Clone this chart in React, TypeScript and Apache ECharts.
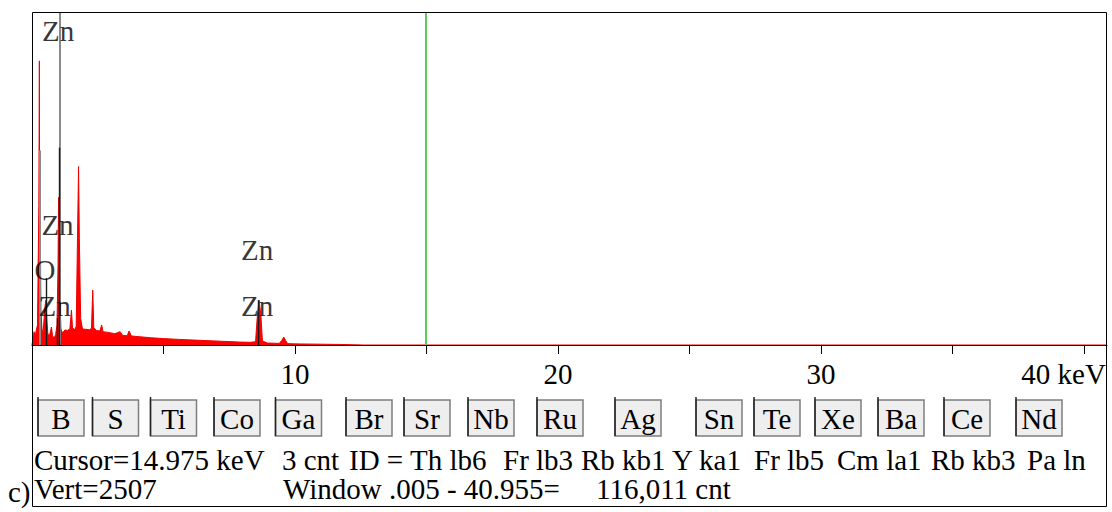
import React, { useEffect, useRef } from 'react';
import * as echarts from 'echarts';

// ---------- data ----------
const energyKeV = [
  0.0, 0.03, 0.08, 0.12, 0.16, 0.21, 0.24, 0.26, 0.28, 0.29, 0.31, 0.34, 0.38, 0.42, 0.46, 0.5,
  0.53, 0.56, 0.6, 0.65, 0.7, 0.74, 0.78, 0.84, 0.9, 0.95, 0.99, 1.01, 1.04, 1.07, 1.1, 1.16,
  1.25, 1.35, 1.44, 1.5, 1.54, 1.62, 1.68, 1.73, 1.77, 1.8, 1.85, 1.92, 2.05, 2.18, 2.26, 2.31,
  2.35, 2.45, 2.58, 2.65, 2.7, 2.9, 3.15, 3.35, 3.45, 3.62, 3.69, 3.78, 4.1, 4.5, 5.0, 5.6, 6.4,
  7.2, 7.9, 8.3, 8.5, 8.56, 8.63, 8.7, 8.76, 8.95, 9.4, 9.5, 9.57, 9.64, 9.72, 10.2, 11.0, 11.7,
  12.2, 12.6, 40.87,
];
const counts = [
  0, 40, 100, 60, 110, 150, 700, 1051, 2139, 1100, 1000, 250, 120, 90, 200, 300,
  338, 200, 90, 60, 100, 135, 70, 50, 80, 150, 600, 1111, 900, 300, 120, 90,
  113, 110, 120, 263, 130, 115, 140, 811, 1343, 800, 200, 120, 118, 115, 125, 413,
  130, 110, 105, 150, 100, 95, 85, 100, 72, 70, 105, 68, 62, 55, 48, 42, 35,
  28, 22, 20, 25, 200, 338, 230, 30, 15, 12, 35, 60, 35, 10, 8, 6, 4,
  2, 0, 0,
];

const markerEnergy = [1.04, 1.02, 0.3, 0.56, 0.95, 8.61];
const markerCounts = [2507, 1486, 1464, 503, 203, 338];
const markerTone = ['gray', 'black', 'gray', 'black', 'black', 'black'];

const peakLabels = ['Zn', 'Zn', 'O', 'Zn', 'Zn', 'Zn'];
const peakLabelEnergy = [0.99, 0.97, 0.49, 0.86, 8.56, 8.56];
const peakLabelCounts = [2364, 903, 565, 294, 715, 294];

const cursorKeV = 14.975;
const vertFullScale = 2507;
const axisMaxKeV = 40.87;

const elementButtons = ['B', 'S', 'Ti', 'Co', 'Ga', 'Br', 'Sr', 'Nb', 'Ru', 'Ag', 'Sn', 'Te', 'Xe', 'Ba', 'Ce', 'Nd'];
const statusRow1 = ['Cursor=14.975 keV', '3 cnt', 'ID = Th lb6', 'Fr lb3', 'Rb kb1', 'Y ka1', 'Fr lb5', 'Cm la1', 'Rb kb3', 'Pa ln'];
const statusRow2 = ['Vert=2507', 'Window .005 - 40.955=', '116,011 cnt'];

// ---------- layout ----------
const FONT_FAMILY = 'Liberation Serif';
const FONT_SIZE = 29;
const FONT = FONT_SIZE + 'px Liberation Serif';
const BUTTON_LEFT = [38, 92.5, 150.5, 214, 275.5, 346, 404, 468, 537, 615, 696, 754, 815, 878, 944, 1016];
const BUTTON_W = 46;
const BUTTON_TOP = 400;
const BUTTON_H = 36;
const ROW1_X = [34, 282, 349, 503, 581, 672, 754, 837, 931, 1027];
const ROW2_X = [34, 283, 596];
const ROW1_Y = 460;
const ROW2_Y = 489;

function buildGraphic() {
  const els: any[] = [];
  els.push({
    type: 'rect',
    silent: true,
    z: 50,
    shape: { x: 32.5, y: 12.5, width: 1074, height: 494 },
    style: { fill: 'none', stroke: '#000', lineWidth: 1 },
  });
  elementButtons.forEach((name, i) => {
    const left = BUTTON_LEFT[i];
    els.push({
      type: 'rect',
      silent: true,
      z: 50,
      shape: { x: left, y: BUTTON_TOP, width: BUTTON_W, height: BUTTON_H },
      style: { fill: '#eeeeee', stroke: '#7d7d7d', lineWidth: 1.5 },
    });
    els.push({
      type: 'line',
      silent: true,
      z: 51,
      shape: { x1: left, y1: BUTTON_TOP - 3, x2: left, y2: BUTTON_TOP + BUTTON_H },
      style: { stroke: '#222', lineWidth: 1.5 },
    });
    els.push({
      type: 'text',
      silent: true,
      z: 52,
      x: left + BUTTON_W / 2,
      y: BUTTON_TOP + BUTTON_H / 2 + 1,
      style: {
        text: name,
        fill: '#000',
        font: FONT,
        align: 'center',
        textAlign: 'center',
        verticalAlign: 'middle',
        textVerticalAlign: 'middle',
      },
    });
  });
  const addText = (text: string, x: number, y: number) =>
    els.push({
      type: 'text',
      silent: true,
      z: 52,
      x,
      y,
      style: {
        text,
        fill: '#000',
        font: FONT,
        align: 'left',
        textAlign: 'left',
        verticalAlign: 'middle',
        textVerticalAlign: 'middle',
      },
    });
  statusRow1.forEach((t, i) => addText(t, ROW1_X[i], ROW1_Y));
  statusRow2.forEach((t, i) => addText(t, ROW2_X[i], ROW2_Y));
  addText('c)', 8, 492);
  return els;
}

export default function App() {
  const ref = useRef<HTMLDivElement>(null);
  useEffect(() => {
    document.body.style.margin = '0';
    if (!ref.current) return;
    const chart = echarts.init(ref.current, null, { renderer: 'svg' });

    const spectrum = energyKeV.map((e, i) => [e, counts[i]]);
    const markerSegments = markerEnergy.map((e, i) => {
      const gray = markerTone[i] === 'gray';
      return [
        {
          coord: [e, 0],
          lineStyle: { color: gray ? '#8a8a8a' : '#1a1a1a', width: gray ? 2 : 1.4, type: 'solid' },
        },
        { coord: [e, markerCounts[i]] },
      ];
    });
    const labelData = peakLabels.map((n, i) => ({ name: n, value: [peakLabelEnergy[i], peakLabelCounts[i]] }));

    chart.setOption({
      animation: false,
      textStyle: { fontFamily: FONT_FAMILY },
      grid: { left: 32, right: 5, top: 12, bottom: 167, containLabel: false, outerBoundsMode: 'none' },
      xAxis: {
        type: 'value',
        min: 0,
        max: axisMaxKeV,
        interval: 5,
        splitLine: { show: false },
        axisLine: { show: true, onZero: false, lineStyle: { color: '#000', width: 1 } },
        axisTick: { show: true, length: 9, lineStyle: { color: '#000', width: 1 } },
        axisLabel: {
          show: true,
          margin: 15,
          hideOverlap: false,
          showMaxLabel: false,
          color: '#000',
          fontFamily: FONT_FAMILY,
          fontSize: FONT_SIZE,
          lineHeight: 28,
          formatter: (v: number) => {
            if (v <= 0 || Math.abs(v % 10) > 1e-6) return '';
            if (Math.abs(v - 40) < 1e-6) return '{k|40 keV}';
            return String(v);
          },
          rich: {
            k: { fontFamily: FONT_FAMILY, fontSize: FONT_SIZE, color: '#000', padding: [0, 41, 0, 0] },
          },
        },
      },
      yAxis: {
        type: 'value',
        min: 0,
        max: vertFullScale,
        show: false,
        splitLine: { show: false },
      },
      series: [
        {
          type: 'line',
          name: 'spectrum',
          data: spectrum,
          showSymbol: false,
          symbol: 'none',
          z: 2,
          lineStyle: { color: '#ee0000', width: 1 },
          areaStyle: { color: '#ff0000', opacity: 1 },
          silent: true,
        },
        {
          type: 'line',
          name: 'markers',
          data: [],
          z: 3,
          markLine: {
            silent: true,
            symbol: ['none', 'none'],
            label: { show: false },
            data: [
              ...markerSegments,
              [
                { coord: [cursorKeV, 0], lineStyle: { color: '#5ccd5c', width: 2, type: 'solid' } },
                { coord: [cursorKeV, vertFullScale] },
              ],
            ],
          },
        },
        {
          type: 'scatter',
          name: 'labels',
          data: labelData,
          symbolSize: 1,
          z: 5,
          silent: true,
          itemStyle: { color: 'rgba(0,0,0,0)' },
          label: {
            show: true,
            position: 'inside',
            formatter: (p: any) => p.name,
            color: '#000',
            fontFamily: FONT_FAMILY,
            fontSize: FONT_SIZE,
          },
        },
      ],
      graphic: buildGraphic(),
    });
    return () => chart.dispose();
  }, []);
  return <div ref={ref} style={{ width: 1112, height: 512 }} />;
}
